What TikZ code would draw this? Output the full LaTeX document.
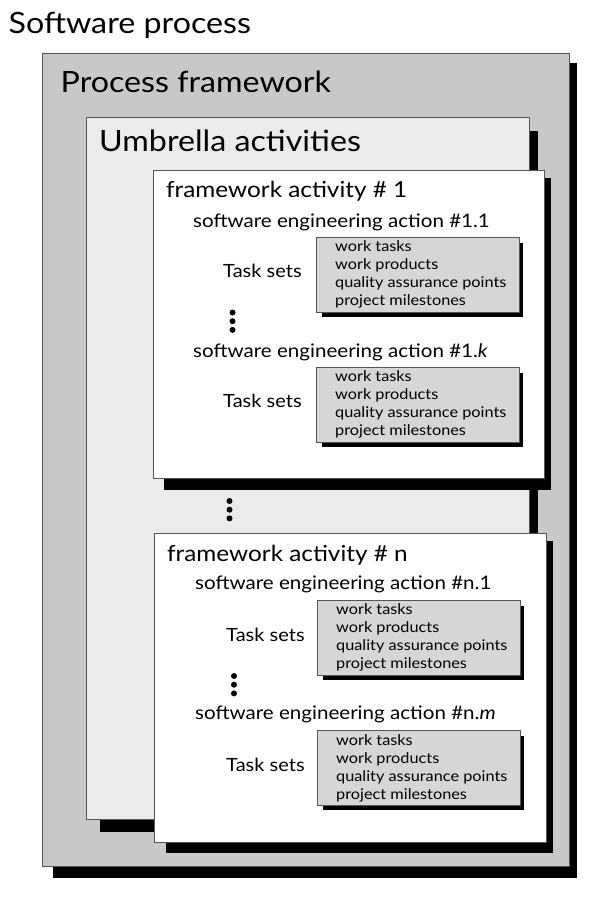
\documentclass[tikz,border=0pt]{standalone}
\usepackage{fontspec}
\setmainfont[FakeStretch=1.1]{Lato}
\definecolor{pfgray}{RGB}{200,200,200}
\definecolor{umgray}{RGB}{235,235,235}
\definecolor{tkgray}{RGB}{214,214,214}
\definecolor{edge}{RGB}{85,85,85}
\tikzset{
  box/.style={draw=edge, line width=1pt, anchor=north west, inner sep=0pt, outer sep=0pt},
  shad/.style={fill=black},
  lab/.style={anchor=base west, inner sep=0pt, text=black},
  big/.style={lab, font=\fontsize{29.3}{32}\selectfont},
  fa/.style={lab, font=\fontsize{22.1}{24}\selectfont},
  sea/.style={lab, font=\fontsize{18.7}{22}\selectfont},
  ts/.style={lab, font=\fontsize{18.2}{20}\selectfont},
  tl/.style={lab, font=\fontsize{14.8}{16}\selectfont},
  vdot/.style={circle, fill=black, inner sep=0pt, minimum size=6pt},
}
\newcommand\taskbox[4]{% name, x, ytop, first baseline
  \fill[shad] (#2+6,#3+6) rectangle (#2+207,#3+80);
  \node[box, fill=tkgray, minimum width=203pt, minimum height=75pt] (#1) at (#2,#3) {};
  \node[tl] (#1-a) at (#2+19,#4) {work tasks};
  \node[tl] (#1-b) at (#2+19,#4+18) {work products};
  \node[tl] (#1-c) at (#2+19,#4+36) {quality assurance points};
  \node[tl] (#1-d) at (#2+19,#4+54) {project milestones};
}
\newcommand\dotstack[4]{% name, x, y, gap
  \node[vdot] (#1-a) at (#2,#3) {};
  \node[vdot] (#1-b) at (#2,#3+#4) {};
  \node[vdot] (#1-c) at (#2,#3+2*#4) {};
}
\begin{document}
\begin{tikzpicture}[x=1pt,y=-1pt]
\useasboundingbox[fill=white] (0,0) rectangle (612,900);
% Process framework
\fill[shad] (53,63) rectangle (577,878);
\node[box, fill=pfgray, minimum width=527pt, minimum height=813pt] (pf) at (42,53) {};
% Umbrella
\fill[shad] (100,131) rectangle (538,832);
\node[box, fill=umgray, minimum width=443pt, minimum height=702pt] (um) at (86,117) {};
% framework activity 1
\fill[shad] (164,178) rectangle (551,490);
\node[box, fill=white, minimum width=391pt, minimum height=308pt] (fa1) at (153,170) {};
% framework activity n
\fill[shad] (166,541) rectangle (553,853);
\node[box, fill=white, minimum width=392pt, minimum height=309pt] (fan) at (154,533) {};

\node[big] (tsp) at (8.5,33.3) {Software process};
\node[big] (tpf) at (60.5,92.7) {Process framework};
\node[big] (tum) at (99,151.7) {Umbrella activities};

\node[fa] (tfa1) at (166,197) {framework activity \# 1};
\node[sea] (s11) at (193,227) {software engineering action \#1.1};
\node[ts] (ts11) at (223,277) {Task sets};
\taskbox{k11}{316}{237}{251}
\dotstack{d1}{232.5}{312.5}{8.7}
\node[sea] (s1k) at (193,357) {software engineering action \#1.\textit{k}};
\node[ts] (ts1k) at (223,407) {Task sets};
\taskbox{k1k}{316}{367}{381.5}

\dotstack{dm}{229.5}{501}{8.7}

\node[fa] (tfan) at (167,561) {framework activity \# n};
\node[sea] (sn1) at (195,589) {software engineering action \#n.1};
\node[ts] (tsn1) at (226,641) {Task sets};
\taskbox{kn1}{317}{600}{614}
\dotstack{dn}{234}{676}{8.7}
\node[sea] (snm) at (195,719) {software engineering action \#n.\textit{m}};
\node[ts] (tsnm) at (226,771) {Task sets};
\taskbox{knm}{317}{730}{745}
\end{tikzpicture}
\end{document}
